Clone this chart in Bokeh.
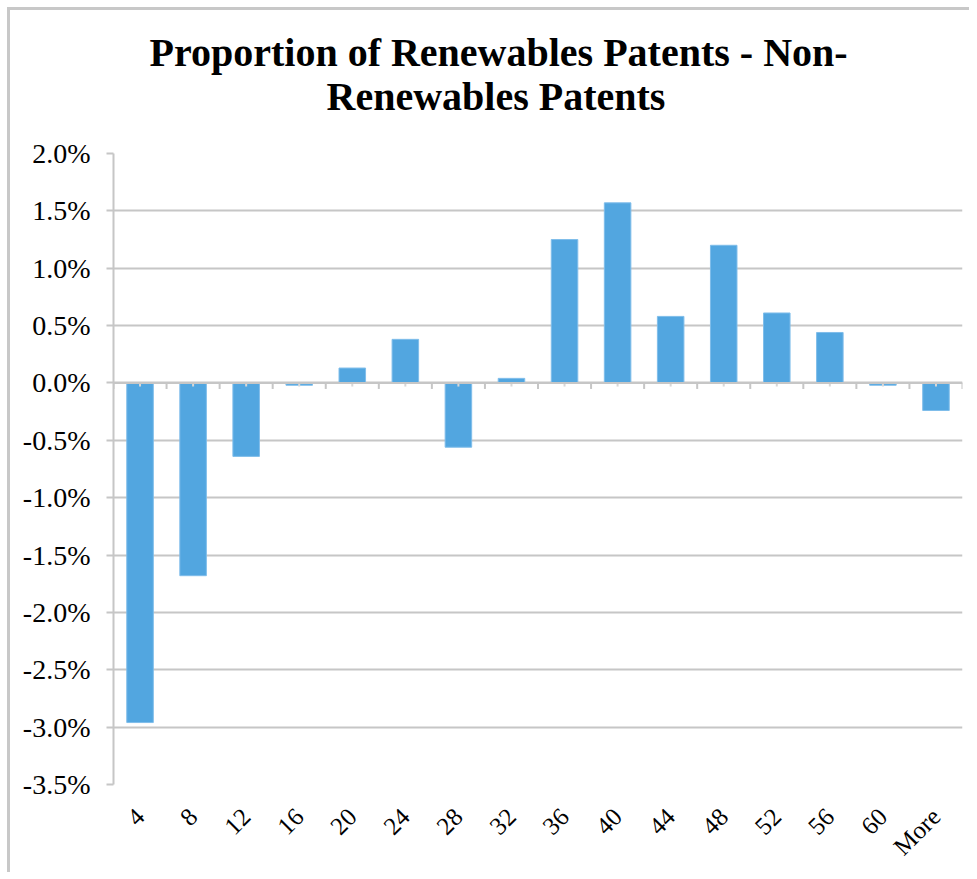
from bokeh.plotting import figure
from bokeh.models import Range1d, FixedTicker, NumeralTickFormatter, Title, Span
from bokeh.embed import file_html
from bokeh.resources import INLINE
import math

# ---- data ----
categories = ["4", "8", "12", "16", "20", "24", "28", "32", "36", "40",
              "44", "48", "52", "56", "60", "More"]
values = [-0.0296, -0.0168, -0.0064, -0.0002, 0.0013, 0.0038, -0.0056, 0.0004,
          0.0125, 0.0157, 0.0058, 0.0120, 0.0061, 0.0044, -0.0002, -0.0024]
y_ticks = [-0.035, -0.03, -0.025, -0.02, -0.015, -0.01, -0.005, 0.0,
           0.005, 0.01, 0.015, 0.02]
title_line1 = "Proportion of Renewables Patents - Non-"
title_line2 = "Renewables Patents"

n = len(categories)
xs = list(range(1, n + 1))

SERIF = "Liberation Serif"
GRID = "#c6c6c6"

p = figure(width=962, height=865, output_backend="svg", toolbar_location=None,
           x_range=Range1d(0.5, n + 0.5),
           y_range=Range1d(min(y_ticks), max(y_ticks)),
           min_border_left=103, min_border_right=10,
           min_border_top=143, min_border_bottom=91,
           styles={"border-top": "3px solid #c8c8c8",
                   "border-left": "3px solid #c8c8c8",
                   "margin-top": "7px", "margin-left": "7px"})

p.outline_line_color = None
p.background_fill_color = "white"
p.border_fill_color = "white"

# titles: p.title is the outer line; the added title sits next to the frame
p.title.text = title_line1
p.title.text_font = SERIF
p.title.text_font_size = "40px"
p.title.text_font_style = "bold"
p.title.text_color = "black"
p.title.align = "left"
p.title.offset = 36
p.title.standoff = -76
t2 = Title(text=title_line2, text_font=SERIF, text_font_size="40px",
           text_font_style="bold", text_color="black", align="left",
           offset=213, standoff=70)
p.add_layout(t2, "above")

# grid
p.xgrid.grid_line_color = None
p.ygrid.grid_line_color = GRID
p.ygrid.grid_line_width = 2
p.ygrid.ticker = FixedTicker(ticks=y_ticks)

# y axis
p.yaxis.ticker = FixedTicker(ticks=y_ticks)
p.yaxis.formatter = NumeralTickFormatter(format="0.0%")
p.yaxis.axis_line_color = GRID
p.yaxis.axis_line_width = 2
p.yaxis.major_tick_line_color = GRID
p.yaxis.major_tick_line_width = 2
p.yaxis.major_tick_out = 7
p.yaxis.major_tick_in = 0
p.yaxis.minor_tick_line_color = None
p.yaxis.major_label_text_font = SERIF
p.yaxis.major_label_text_font_size = "28px"
p.yaxis.major_label_text_color = "black"
p.yaxis.major_label_standoff = 16

# x axis (labels only)
p.xaxis.ticker = FixedTicker(ticks=xs)
p.xaxis.major_label_overrides = {x: c for x, c in zip(xs, categories)}
p.xaxis.axis_line_color = None
p.xaxis.major_tick_line_color = None
p.xaxis.minor_tick_line_color = None
p.xaxis.major_label_orientation = math.pi / 4
p.xaxis.major_label_text_font = SERIF
p.xaxis.major_label_text_font_size = "25px"
p.xaxis.major_label_text_color = "black"
p.xaxis.major_label_standoff = 22

# bars
p.vbar(x=xs, top=values, bottom=0, width=0.5, fill_color="#52a6e0",
       line_color="#7fbdea", line_width=1)

# zero line with category boundary ticks
p.add_layout(Span(location=0, dimension="width", line_color=GRID, line_width=2))
span_y = max(y_ticks) - min(y_ticks)
tick_len = span_y * 6 / 631
bounds = [x - 0.5 for x in xs] + [n + 0.5]
p.segment(x0=bounds, x1=bounds, y0=[0] * len(bounds), y1=[-tick_len] * len(bounds),
          line_color=GRID, line_width=2)
p.segment(x0=xs, x1=xs, y0=[0] * n, y1=[-tick_len * 0.6] * n,
          line_color="#d8d8d8", line_width=2)

open("out.html", "w").write(file_html(p, INLINE))
